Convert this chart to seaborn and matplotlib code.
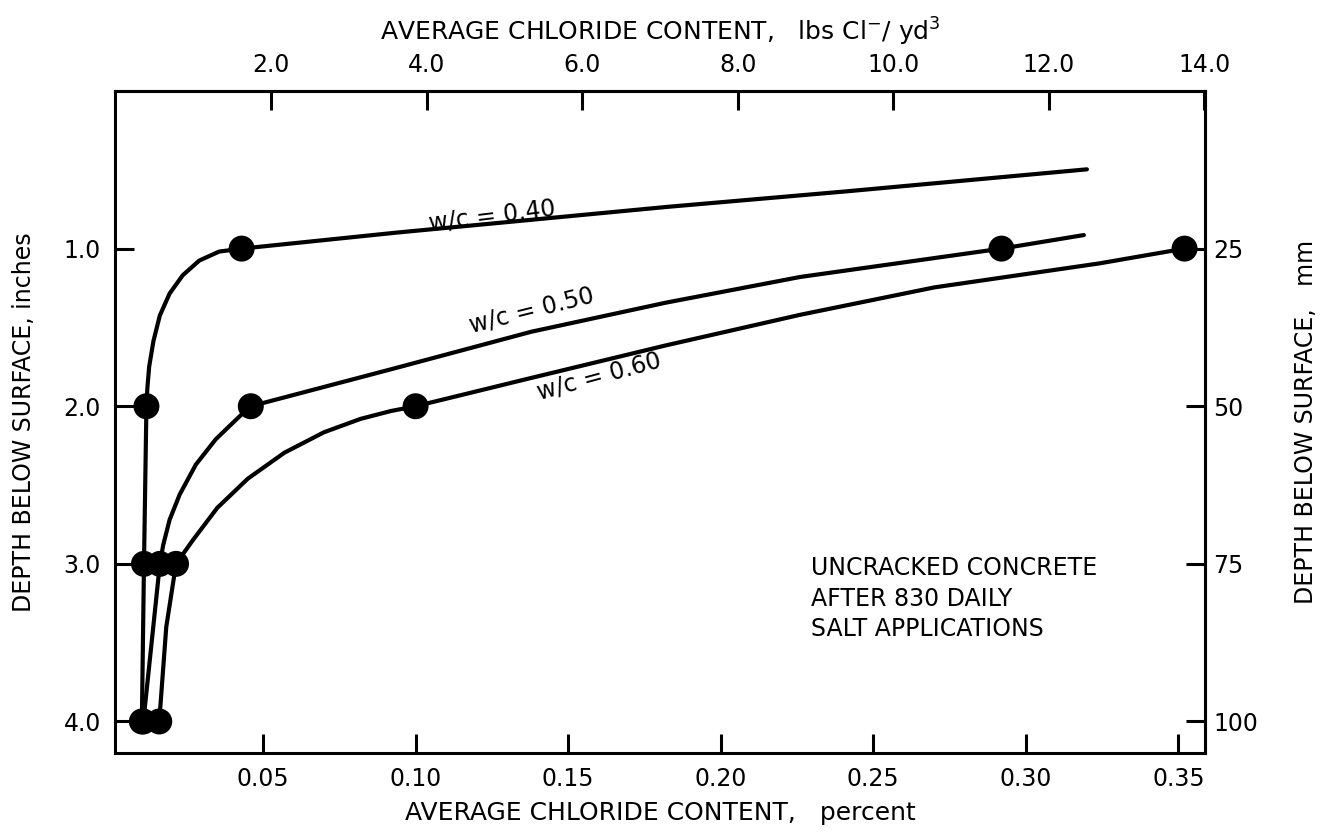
import matplotlib
matplotlib.use("Agg")
import matplotlib.pyplot as plt
import seaborn as sns

# ---------------- data ----------------
depth_in = [1.0, 2.0, 3.0, 4.0]
pct_wc040 = [0.043, 0.0118, 0.0110, 0.0103]
pct_wc050 = [0.292, 0.046, 0.0162, 0.0108]
pct_wc060 = [0.352, 0.100, 0.0215, 0.0160]

# traced paths of the hand-drawn curves
curve040_pct = [0.320, 0.241, 0.182, 0.094, 0.043, 0.0356, 0.0291, 0.0237, 0.0194,
                0.0162, 0.0141, 0.0127, 0.0121, 0.0118, 0.0114, 0.0110, 0.0103]
curve040_depth = [0.497, 0.637, 0.736, 0.898, 1.0, 1.019, 1.076, 1.169, 1.285,
                  1.424, 1.586, 1.748, 1.887, 2.0, 2.5, 3.0, 4.0]
curve050_pct = [0.319, 0.292, 0.226, 0.182, 0.138, 0.094, 0.046, 0.042, 0.0345,
                0.028, 0.0227, 0.0194, 0.0173, 0.0162, 0.0108]
curve050_depth = [0.914, 1.0, 1.18, 1.343, 1.527, 1.755, 2.0, 2.07, 2.21,
                  2.37, 2.56, 2.72, 2.88, 3.0, 4.0]
curve060_pct = [0.352, 0.324, 0.270, 0.226, 0.182, 0.138, 0.100, 0.092, 0.0820,
                0.0700, 0.0570, 0.0450, 0.0350, 0.0270, 0.0215, 0.0183, 0.0160]
curve060_depth = [1.0, 1.094, 1.246, 1.42, 1.614, 1.82, 2.0, 2.030, 2.080,
                  2.165, 2.295, 2.46, 2.645, 2.850, 3.0, 3.4, 4.0]

series_labels = ["w/c = 0.40", "w/c = 0.50", "w/c = 0.60"]
bottom_ticks = [0.05, 0.10, 0.15, 0.20, 0.25, 0.30, 0.35]
top_ticks = [2.0, 4.0, 6.0, 8.0, 10.0, 12.0, 14.0]
left_ticks = [1.0, 2.0, 3.0, 4.0]
right_ticks = [25, 50, 75, 100]
note_text = "UNCRACKED CONCRETE\nAFTER 830 DAILY\nSALT APPLICATIONS"

# ---------------- style ----------------
sns.set_theme(style="ticks")
plt.rcParams['font.family'] = ['DejaVu Sans']
plt.rcParams['axes.linewidth'] = 2.2
plt.rcParams['mathtext.default'] = 'regular'
plt.rcParams['text.color'] = 'black'
plt.rcParams['axes.labelcolor'] = 'black'
plt.rcParams['xtick.color'] = 'black'
plt.rcParams['ytick.color'] = 'black'

fig = plt.figure(figsize=(13.2, 8.32), dpi=100)
W, H = 1320, 832
L, R, T, B = 115, 1205, 91, 753
ax = fig.add_axes([L / W, 1 - B / H, (R - L) / W, (B - T) / H])
ax.set_facecolor("white")
fig.patch.set_facecolor("white")

lw = 3.0
for xs, ys in [(curve040_pct, curve040_depth),
               (curve050_pct, curve050_depth),
               (curve060_pct, curve060_depth)]:
    sns.lineplot(x=xs, y=ys, sort=False, estimator=None, color="black",
                 lw=lw, ax=ax, solid_joinstyle="round", solid_capstyle="round")

for xs in [pct_wc040, pct_wc050, pct_wc060]:
    sns.scatterplot(x=xs, y=depth_in, s=350, color="black", edgecolor="none",
                    ax=ax, zorder=5, legend=False)

ax.set_xlim(0.0015, 0.3587)
ax.set_ylim(4.2, 0.0)

fs = 17
fl = 18
ax.set_xticks(bottom_ticks)
ax.set_xticklabels([f"{t:.2f}" for t in bottom_ticks])
ax.set_yticks(left_ticks)
ax.set_yticklabels([f"{t:.1f}" for t in left_ticks])
ax.tick_params(direction="in", length=14, width=2.2, labelsize=fs, pad=10,
               color="black", labelcolor="black")
ax.set_xlabel("AVERAGE CHLORIDE CONTENT,   percent", fontsize=fl, labelpad=7)
ax.set_ylabel("DEPTH BELOW SURFACE, inches", fontsize=fs, labelpad=20)
for s in ax.spines.values():
    s.set_color("black")
    s.set_linewidth(2.2)

# top axis in lbs Cl-/yd3
k, off = 39.25, -0.07
top = ax.secondary_xaxis("top", functions=(lambda p: k * p + off, lambda l: (l - off) / k))
top.set_xticks(top_ticks)
top.set_xticklabels([f"{t:.1f}" for t in top_ticks])
top.tick_params(direction="in", length=14, width=2.2, labelsize=fs, pad=10,
                color="black", labelcolor="black")
top.set_xlabel(r"AVERAGE CHLORIDE CONTENT,   lbs Cl$^{-}$/ yd$^{3}$", fontsize=fl, labelpad=9)
top.spines["top"].set_linewidth(2.2)

# right axis in mm
right = ax.secondary_yaxis("right", functions=(lambda d: d * 25.0, lambda m: m / 25.0))
right.set_yticks(right_ticks)
right.set_yticklabels([str(t) for t in right_ticks])
right.tick_params(direction="in", length=14, width=2.2, labelsize=fs, pad=6,
                  color="black", labelcolor="black")
right.set_ylabel("DEPTH BELOW SURFACE,   mm", fontsize=fs, labelpad=26)
right.spines["right"].set_linewidth(2.2)

# curve labels
ax.text(0.125, 0.79, series_labels[0], fontsize=fs, rotation=7, ha="center", va="center")
ax.text(0.138, 1.39, series_labels[1], fontsize=fs, rotation=14, ha="center", va="center")
ax.text(0.160, 1.81, series_labels[2], fontsize=fs, rotation=15, ha="center", va="center")

ax.text(0.2295, 3.22, note_text, fontsize=fs, ha="left", va="center", linespacing=1.35)

fig.savefig("out.png", dpi=100, facecolor="white")
